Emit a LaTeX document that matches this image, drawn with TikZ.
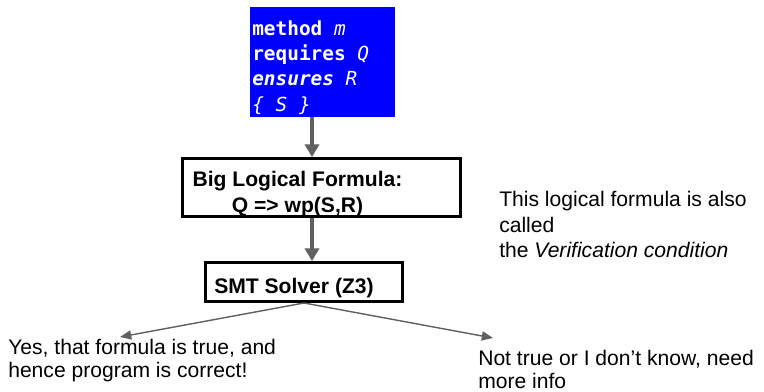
\documentclass[tikz,border=0pt]{standalone}
\usepackage{fontspec}
\setmainfont{Liberation Sans}
\newfontfamily\codefont{DejaVu Sans Mono}
\usetikzlibrary{arrows.meta}
\definecolor{arrowgray}{RGB}{96,96,96}
\definecolor{specblue}{RGB}{0,0,255}

\begin{document}
\begin{tikzpicture}[x = 0.025cm, y = -0.025cm,
  specbox/.style = {fill = specblue, inner sep = 0pt},
  box/.style = {draw, line width = 2.1pt, inner sep = 0pt},
  boxtext/.style = {font = \fontsize{15}{18.5}\selectfont\bfseries, align = center, inner sep = 0pt},
  note/.style = {font = \fontsize{15}{16.4}\selectfont, align = left, inner sep = 0pt, anchor = west},
  bigarrow/.style = {arrowgray, line width = 2.9pt, -{Triangle[width = 10pt, length = 9pt]}},
  smallarrow/.style = {arrowgray, line width = 1pt, -{Triangle[width = 6.5pt, length = 8pt]}}]

\useasboundingbox (0,0) rectangle (764,391);

% the method
\node[specbox, minimum width = 3.625cm, minimum height = 2.75cm] (spec) at (322.5,62) {};
\node[anchor = north west, inner sep = 0pt, align = left, text = white,
  font = \codefont\fontsize{13.8}{18}\selectfont] (specText) at (252,20.3)
  {\textbf{method} \textit{m}\\ \textbf{requires} \textit{Q}\\ \textbf{\textit{ensures}} \textit{R}\\ \textit{\{ S \}}};

% the formula and the solver
\node[box, minimum width = 6.95cm, minimum height = 1.45cm] (formula) at (321.5,187.5) {};
\node[boxtext] (formulaText) at (297.5,194.5) {Big Logical Formula:\\Q => wp(S,R)};
\node[box, minimum width = 4.925cm, minimum height = 0.975cm] (smt) at (304,282) {};
\node[boxtext, anchor = base] (smtText) at (294,293) {SMT Solver (Z3)};

\coordinate (axis) at (312,0);
\draw[bigarrow] (spec.south -| axis) -- (formula.north -| axis);
\draw[bigarrow] (formula.south -| axis) -- (smt.north -| axis);

% the two answers
\coordinate (yesTip) at (120,337);
\coordinate (noTip) at (493,338);
\draw[smallarrow] (smt.south) -- (yesTip);
\draw[smallarrow] (smt.south) -- (noTip);

\node[note, font = \fontsize{15}{18.1}\selectfont] (vcNote) at (499,224.8)
  {This logical formula is also\\called\\the \textit{Verification condition}};
\node[note] (yesNote) at (8,361) {Yes, that formula is true, and\\hence program is correct!};
\node[note] (noNote) at (478,369.5) {Not true or I don’t know, need\\more info};

\end{tikzpicture}
\end{document}
